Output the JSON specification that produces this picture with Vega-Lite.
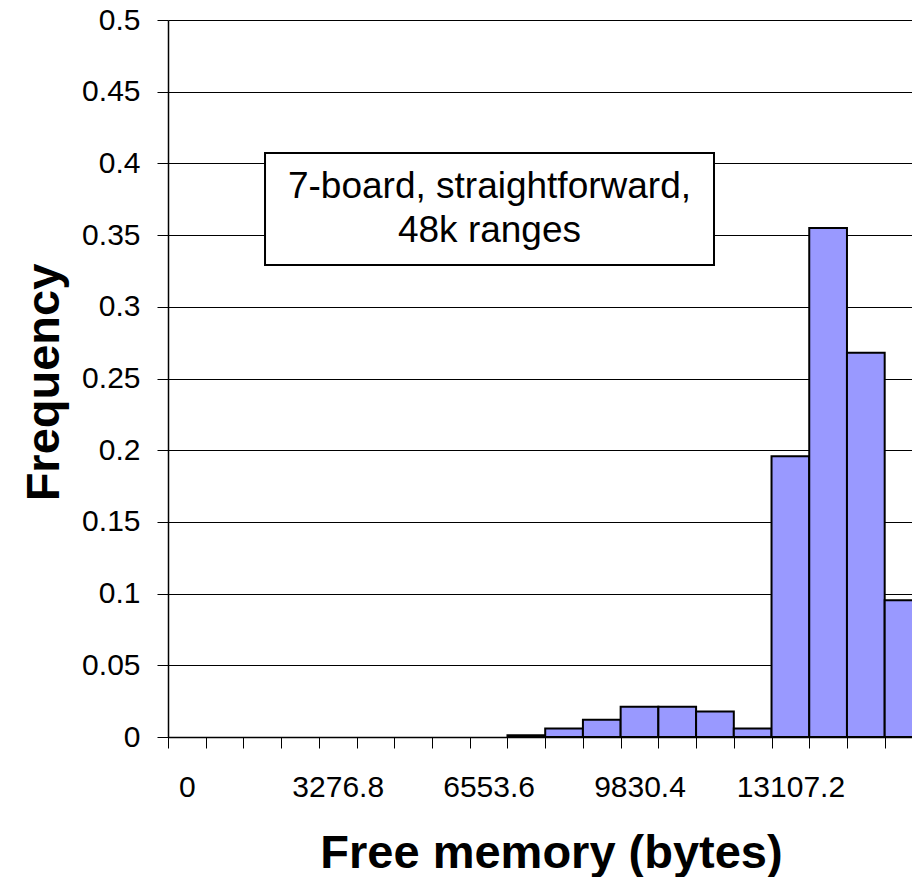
{
  "$schema": "https://vega.github.io/schema/vega-lite/v6.json",
  "width": 744,
  "height": 717,
  "autosize": {"type": "none"},
  "padding": {"left": 168, "top": 20, "right": 0, "bottom": 140},
  "background": "white",
  "config": {"view": {"stroke": null}, "font": "Liberation Sans"},
  "datasets": {
    "hist": [
      {"bin_start": 0, "bin_end": 819.2, "frequency": 0},
      {"bin_start": 819.2, "bin_end": 1638.4, "frequency": 0},
      {"bin_start": 1638.4, "bin_end": 2457.6, "frequency": 0},
      {"bin_start": 2457.6, "bin_end": 3276.8, "frequency": 0},
      {"bin_start": 3276.8, "bin_end": 4096, "frequency": 0},
      {"bin_start": 4096, "bin_end": 4915.2, "frequency": 0},
      {"bin_start": 4915.2, "bin_end": 5734.4, "frequency": 0},
      {"bin_start": 5734.4, "bin_end": 6553.6, "frequency": 0},
      {"bin_start": 6553.6, "bin_end": 7372.8, "frequency": 0},
      {"bin_start": 7372.8, "bin_end": 8192, "frequency": 0.0012},
      {"bin_start": 8192, "bin_end": 9011.2, "frequency": 0.0059},
      {"bin_start": 9011.2, "bin_end": 9830.4, "frequency": 0.012},
      {"bin_start": 9830.4, "bin_end": 10649.6, "frequency": 0.0211},
      {"bin_start": 10649.6, "bin_end": 11468.8, "frequency": 0.0211},
      {"bin_start": 11468.8, "bin_end": 12288, "frequency": 0.0178},
      {"bin_start": 12288, "bin_end": 13107.2, "frequency": 0.0059},
      {"bin_start": 13107.2, "bin_end": 13926.4, "frequency": 0.1957},
      {"bin_start": 13926.4, "bin_end": 14745.6, "frequency": 0.355},
      {"bin_start": 14745.6, "bin_end": 15564.8, "frequency": 0.268},
      {"bin_start": 15564.8, "bin_end": 16384, "frequency": 0.0954}
    ],
    "note": [
      {"label": "7-board, straightforward,\n48k ranges"}
    ]
  },
  "resolve": {"axis": {"x": "independent", "y": "independent"}},
  "layer": [
    {
      "data": {"name": "hist"},
      "mark": {"type": "bar", "fill": "#9999FF", "stroke": "black", "clip": true},
      "encoding": {
        "x": {
          "field": "bin_start",
          "type": "quantitative",
          "scale": {"domain": [0, 16158], "nice": false, "zero": false},
          "axis": {
            "orient": "bottom",
            "values": [409.6, 3686.4, 6963.2, 10240, 13516.8],
            "labelExpr": "format(datum.value - 409.6, '.6~f')",
            "ticks": false,
            "tickSize": 0,
            "domain": false,
            "grid": false,
            "labelFont": "Liberation Sans",
            "labelFontSize": 30,
            "labelColor": "black",
            "labelPadding": 59,
            "labelBaseline": "alphabetic",
            "labelFlush": false,
            "labelOverlap": false,
            "labelBound": false,
            "title": "Free memory (bytes)",
            "titleFont": "Liberation Sans",
            "titleFontSize": 47,
            "titleFontWeight": "bold",
            "titleColor": "black",
            "titleX": 383,
            "titleY": 130,
            "titleBaseline": "alphabetic",
            "titleAlign": "center"
          }
        },
        "x2": {"field": "bin_end"},
        "y": {
          "field": "frequency",
          "type": "quantitative",
          "scale": {"domain": [0, 0.5], "nice": false},
          "axis": {
            "orient": "left",
            "values": [0, 0.05, 0.1, 0.15, 0.2, 0.25, 0.3, 0.35, 0.4, 0.45, 0.5],
            "format": "~g",
            "grid": true,
            "gridColor": "black",
            "gridWidth": 1,
            "gridOpacity": 1,
            "domainColor": "black",
            "domainWidth": 1.5,
            "tickColor": "black",
            "tickSize": 11,
            "tickWidth": 1,
            "labelFont": "Liberation Sans",
            "labelFontSize": 30,
            "labelColor": "black",
            "labelPadding": 17,
            "labelOverlap": false,
            "labelBound": false,
            "labelFlush": false,
            "title": "Frequency",
            "titleFont": "Liberation Sans",
            "titleFontSize": 47,
            "titleFontWeight": "bold",
            "titleColor": "black",
            "titleX": -110,
            "titleY": 362,
            "titleAngle": -90,
            "titleBaseline": "alphabetic",
            "titleAlign": "center"
          }
        },
        "y2": {"datum": 0},
        "strokeWidth": {"condition": {"test": "datum.frequency == 0", "value": 0}, "value": 2}
      }
    },
    {
      "data": {"name": "note"},
      "mark": {"type": "rect", "fill": "white", "stroke": "black", "strokeWidth": 2},
      "encoding": {
        "x": {
          "datum": 2107,
          "type": "quantitative",
          "axis": {
            "orient": "bottom",
            "values": [0, 819.2, 1638.4, 2457.6, 3276.8, 4096, 4915.2, 5734.4, 6553.6, 7372.8, 8192, 9011.2, 9830.4, 10649.6, 11468.8, 12288, 13107.2, 13926.4, 14745.6, 15564.8],
            "labels": false,
            "ticks": true,
            "tickSize": 11,
            "tickColor": "black",
            "tickWidth": 1,
            "domain": true,
            "domainColor": "black",
            "domainWidth": 1.5,
            "grid": false,
            "title": null
          }
        },
        "x2": {"datum": 11858},
        "y": {"datum": 0.4073, "type": "quantitative", "axis": null},
        "y2": {"datum": 0.3291}
      }
    },
    {
      "data": {"name": "note"},
      "mark": {
        "type": "text",
        "lineBreak": "\n",
        "font": "Liberation Sans",
        "fontSize": 37,
        "lineHeight": 43.5,
        "align": "center",
        "baseline": "alphabetic",
        "color": "black"
      },
      "encoding": {
        "text": {"field": "label", "type": "nominal"},
        "x": {"datum": 6982, "type": "quantitative", "axis": null},
        "y": {"datum": 0.3757, "type": "quantitative", "axis": null}
      }
    }
  ]
}
